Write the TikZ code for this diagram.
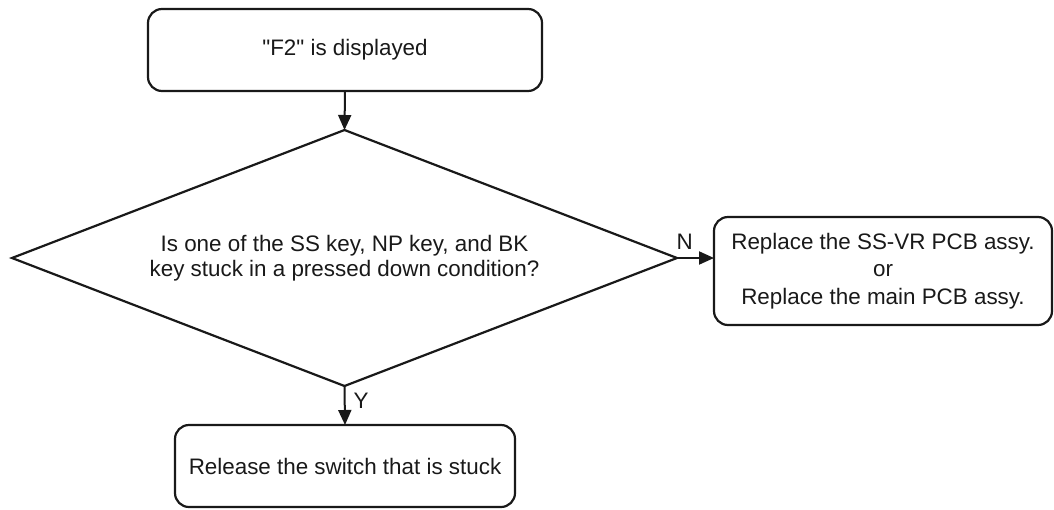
\documentclass[tikz,border=0pt]{standalone}
\usepackage{fontspec}
\setmainfont{Liberation Sans}
\usetikzlibrary{shapes.geometric,arrows.meta}
\begin{document}
\begin{tikzpicture}[x=0.5pt,y=-0.5pt,
  every node/.style={text=black!90},
  procbox/.style={draw=black!90, line width=1.1pt, rounded corners=7pt, inner sep=0pt, outer sep=0pt, align=center},
  decbox/.style={draw=black!90, line width=1.1pt, diamond, shape aspect=2.6, inner sep=0pt, outer sep=0pt, align=center},
  flowarrow/.style={draw=black!90, line width=1pt, -{Triangle[length=7.5pt,width=6.5pt]}},
  lbl/.style={inner sep=0pt, font=\fontsize{11.2}{13}\selectfont}
]
\useasboundingbox (0,0) rectangle (1054,509);
\node[procbox, minimum width=197pt, minimum height=41pt, font=\fontsize{11.2}{13}\selectfont] (start) at (345,50) {\textquotedbl F2\textquotedbl{} is displayed};
\node[decbox, minimum width=332.5pt, minimum height=128pt, font=\fontsize{11.2}{12.5}\selectfont] (dec) at (344.5,258) {Is one of the SS key, NP key, and BK\\key stuck in a pressed down condition?};
\node[procbox, minimum width=169pt, minimum height=54pt, font=\fontsize{11.2}{13.75}\selectfont] (repl) at (883,271) {Replace the SS-VR PCB assy.\\or\\Replace the main PCB assy.};
\node[procbox, minimum width=170pt, minimum height=41pt, font=\fontsize{11.2}{13}\selectfont] (rel) at (345,466) {Release the switch that is stuck};
\draw[flowarrow] (start.south) -- (dec.north);
\draw[flowarrow] (dec.east) -- node[lbl, pos=0.21, above=4pt] (nlab) {N} (dec.east -| repl.west);
\draw[flowarrow] (dec.south) -- node[lbl, pos=0.38, right=4pt] (ylab) {Y} (rel.north);
\end{tikzpicture}
\end{document}
